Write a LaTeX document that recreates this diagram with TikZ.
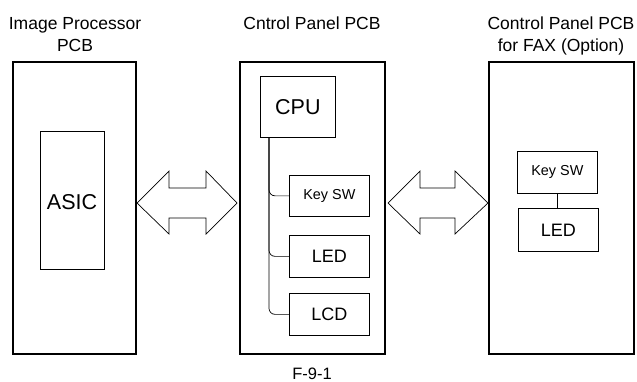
\documentclass[tikz,border=0pt]{standalone}
\usepackage{fontspec}
\setmainfont{Liberation Sans}
\begin{document}
\begin{tikzpicture}[x=1pt,y=-1pt,
  board/.style={draw,line width=1.6pt},
  part/.style={draw,line width=0.7pt},
  lbl/.style={inner sep=0pt,anchor=base,font=\fontsize{17.5}{22}\selectfont},
  link/.style={line width=0.7pt},
  bus/.style={draw,line width=0.7pt,fill=white}]
\useasboundingbox (0,0) rectangle (637,381);
% boards
\draw[board] (13,62) rectangle (136,354);
\draw[board] (240,62) rectangle (385,354);
\draw[board] (489,62) rectangle (634,354);
% titles
\node[lbl] (t1a) at (75,29) {Image Processor};
\node[lbl] (t1b) at (75,51) {PCB};
\node[lbl] (t2) at (312,29) {Cntrol Panel PCB};
\node[lbl] (t3a) at (561,29) {Control Panel PCB};
\node[lbl] (t3b) at (561,51) {for FAX (Option)};
\node[lbl,font=\fontsize{16.5}{20}\selectfont] (cap) at (312,379) {F-9-1};
% parts
\node[part,minimum width=64pt,minimum height=138pt,anchor=north west,inner sep=0pt] (asic) at (40,131) {};
\node[font=\fontsize{21.5}{24}\selectfont,anchor=base] (asict) at (72,209) {ASIC};
\node[part,minimum width=75pt,minimum height=61pt,anchor=north west,inner sep=0pt,font=\fontsize{21.5}{24}\selectfont] (cpu) at (260,76) {CPU};
\node[part,minimum width=80pt,minimum height=41pt,anchor=north west,inner sep=0pt,font=\fontsize{14.4}{16}\selectfont] (ksw) at (289,175) {Key SW};
\node[part,minimum width=80pt,minimum height=42pt,anchor=north west,inner sep=0pt,font=\fontsize{18}{20}\selectfont] (led) at (289,235) {LED};
\node[part,minimum width=80pt,minimum height=42pt,anchor=north west,inner sep=0pt,font=\fontsize{18}{20}\selectfont] (lcd) at (289,293) {LCD};
\node[part,minimum width=80pt,minimum height=42pt,anchor=north west,inner sep=0pt,font=\fontsize{14.4}{16}\selectfont] (fksw) at (517,151) {Key SW};
\node[part,minimum width=80pt,minimum height=43pt,anchor=north west,inner sep=0pt,font=\fontsize{18}{20}\selectfont] (fled) at (518,208) {LED};
% links
\coordinate (cpub) at (269,137);
\draw[link,rounded corners=6pt] (cpub) |- (ksw.west);
\draw[link,rounded corners=6pt] (cpub) |- (led.west);
\draw[link,rounded corners=6pt] (cpub) |- (lcd.west);
\draw[link] (fksw.south) -- (fksw.south |- fled.north);
% bus arrows
\draw[bus] (137,203) -- (169,171) -- (169,188) -- (206,188) -- (206,171) -- (237,203)
  -- (206,234) -- (206,218) -- (169,218) -- (169,234) -- cycle;
\draw[bus] (388,203) -- (420,171) -- (420,188) -- (455,188) -- (455,171) -- (488,203)
  -- (455,234) -- (455,218) -- (420,218) -- (420,234) -- cycle;
\end{tikzpicture}
\end{document}
